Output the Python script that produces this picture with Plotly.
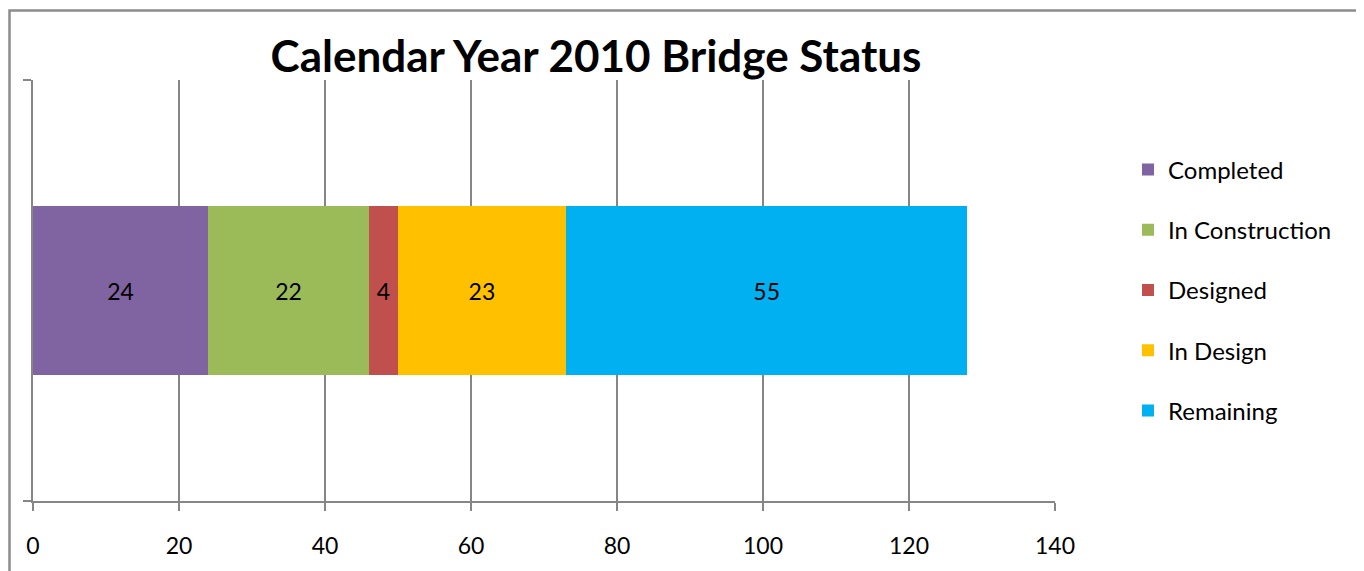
import plotly.graph_objects as go

category = ["2010"]
series_names = ["Completed", "In Construction", "Designed", "In Design", "Remaining"]
series_values = [24, 22, 4, 23, 55]
series_colors = ["#8064A2", "#9BBB59", "#C0504D", "#FFC000", "#00B0F0"]
x_tick_values = [0, 20, 40, 60, 80, 100, 120, 140]

FONT = "Lato"
OFF = 8  # page body margin
W, H = 1364 - OFF, 571 - OFF
L, R, T, B = 33 - OFF, 1055 - OFF, 80 - OFF, 501 - OFF

fig = go.Figure()
for name, val, col in zip(series_names, series_values, series_colors):
    fig.add_trace(go.Bar(
        y=category, x=[val], name=name, orientation="h",
        marker=dict(color=col, line=dict(width=0)),
        text=[str(val)], textposition="inside", insidetextanchor="middle",
        textfont=dict(family=FONT, size=23, color="black"),
        legendgroup=name,
    ))

def px2paper_x(px):
    return (px - OFF - L) / (R - L)

def px2paper_y(py):
    return (B - (py - OFF)) / (B - T)

fig.update_layout(
    width=W, height=H,
    margin=dict(l=L, r=W - R, t=T, b=H - B, pad=0),
    barmode="stack", bargap=0.6,
    plot_bgcolor="white", paper_bgcolor="white",
    font=dict(family=FONT, size=22, color="black"),
    title=dict(text="<b>Calendar Year 2010 Bridge Status</b>",
               font=dict(family=FONT, size=44, color="black"),
               x=(596 - OFF) / W, xref="container", xanchor="center",
               y=1 - (57 - OFF) / H, yref="container", yanchor="middle"),
    showlegend=True,
    legend=dict(x=px2paper_x(1128), xanchor="left", y=px2paper_y(290), yanchor="middle",
                traceorder="grouped", tracegroupgap=26,
                font=dict(family=FONT, size=24, color="black"),
                itemwidth=30, bgcolor="rgba(0,0,0,0)"),
    xaxis=dict(range=[0, 140], tickvals=x_tick_values, showgrid=True,
               gridcolor="#868686", gridwidth=1.5, zeroline=False,
               showline=True, linecolor="#868686", linewidth=1.5,
               ticks="outside", ticklen=8, tickcolor="#868686", tickwidth=1.5,
               ticklabelstandoff=16,
               tickfont=dict(family=FONT, size=23, color="black")),
    yaxis=dict(type="category", range=[-0.5, 0.5], showticklabels=False,
               showline=True, linecolor="#868686", linewidth=1.5,
               ticks="outside", tickson="boundaries", ticklen=8,
               tickcolor="#868686", tickwidth=1.5, showgrid=False, zeroline=False),
)

fig.add_shape(type="rect", xref="paper", yref="paper",
              x0=px2paper_x(9.5), x1=px2paper_x(1358.5),
              y0=px2paper_y(600), y1=px2paper_y(10.5),
              line=dict(color="#8C8C8C", width=2.5), fillcolor="rgba(0,0,0,0)",
              layer="above")

fig.write_html("out.html")
